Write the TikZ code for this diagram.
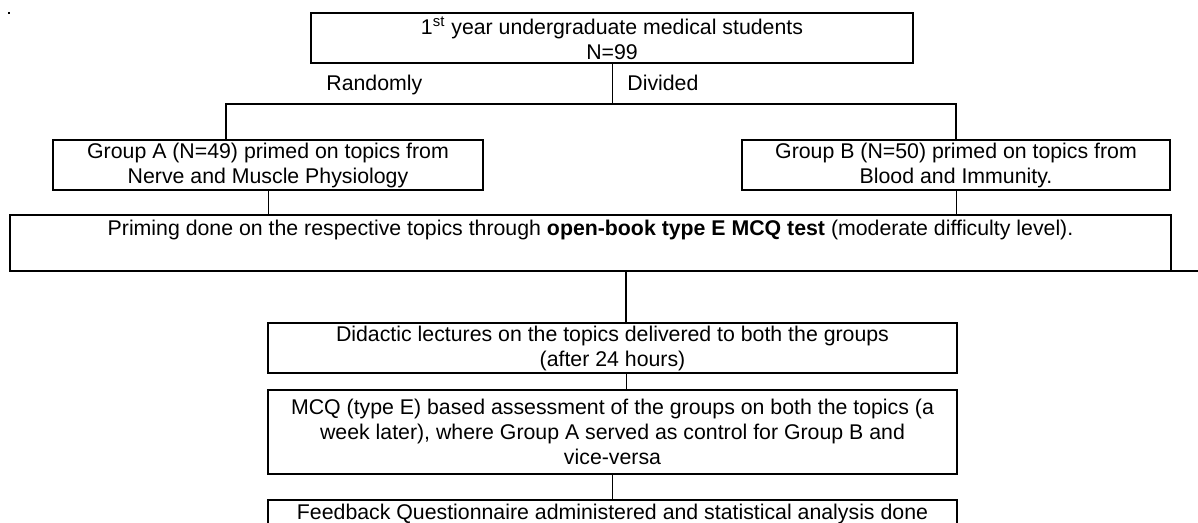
\documentclass[tikz,border=0pt]{standalone}
\usepackage{fontspec}
\setmainfont{Liberation Sans}
\tikzset{
  box/.style={draw,line width=1pt,align=center,inner sep=0pt,outer sep=0pt,font=\fontsize{10.65}{12.5}\selectfont},
  lbl/.style={anchor=base west,inner sep=0pt,font=\fontsize{10.65}{12.5}\selectfont},
  thinline/.style={line width=0.5pt},
  thickline/.style={line width=1pt}
}

\begin{document}
\begin{tikzpicture}[x=0.5pt,y=-0.5pt]
  \useasboundingbox (0,0) rectangle (1198,523);
  \clip (0,0) rectangle (1198,523);
  \fill (8,12) rectangle (10,14);

  \node[box,minimum width=301pt,minimum height=25pt] (top) at (612,38) {1\textsuperscript{st} year undergraduate medical students\\N=99};
  \node[lbl] (rand) at (326,91) {Randomly};
  \node[lbl] (div) at (627,91) {Divided};
  \node[box,minimum width=215pt,minimum height=25pt] (grpA) at (268,165) {Group A (N=49) primed on topics from\\Nerve and Muscle Physiology};
  \node[box,minimum width=214pt,minimum height=25pt] (grpB) at (956,165) {Group B (N=50) primed on topics from\\Blood and Immunity.};
  \node[box,minimum width=580.5pt,minimum height=28pt] (prim) at (590.5,243) {\strut Priming done on the respective topics through \textbf{open-book type E MCQ test} (moderate difficulty level).\\\strut};
  \node[box,minimum width=344.5pt,minimum height=25pt] (did) at (612.5,348) {Didactic lectures on the topics delivered to both the groups\\(after 24 hours)};
  \node[box,minimum width=344.5pt,minimum height=42pt] (mcq) at (612.5,432) {MCQ (type E) based assessment of the groups on both the topics (a\\week later), where Group A served as control for Group B and\\vice-versa};
  \node[box,minimum width=344.5pt,minimum height=14pt] (fb) at (612.5,514) {Feedback Questionnaire administered and statistical analysis done};

  % split into the two groups
  \coordinate (splitM) at (612,104);
  \coordinate (splitL) at (226,104);
  \coordinate (splitR) at (956,104);
  \draw[thinline] (top.south) -- (splitM);
  \draw[thickline] (splitL |- grpA.north) -- (splitL) -- (splitR) -- (grpB.north);

  \draw[thinline] (grpA.south) -- (grpA.south |- prim.north);
  \draw[thinline] (grpB.south) -- (grpB.south |- prim.north);

  % down the middle
  \coordinate (tapP) at (626,271);
  \draw[thickline] (tapP) -- (tapP |- did.north);
  \draw[thinline] (tapP |- did.south) -- (tapP |- mcq.north);
  \draw[thinline] (mcq.south) -- (fb.north);

  \coordinate (edge) at (1198,271);
  \draw[thickline] (prim.south east) -- (edge);
\end{tikzpicture}
\end{document}
